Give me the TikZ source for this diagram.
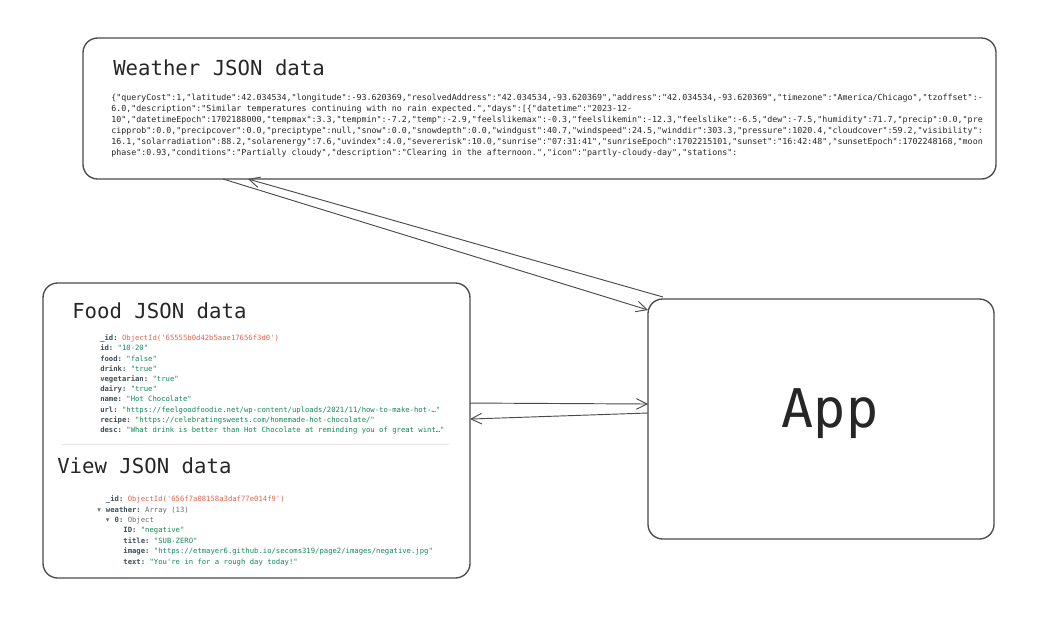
\documentclass[tikz,border=0pt]{standalone}
\usepackage{fontspec}
\setmonofont{DejaVu Sans Mono}
\newfontfamily\simbolos{DejaVu Sans}
\usepackage{xcolor}
\usepackage{tikz}
\usetikzlibrary{arrows.meta}
\definecolor{borde}{HTML}{4A4A4A}
\definecolor{clave}{HTML}{3D4F58}
\definecolor{cadena}{HTML}{12885A}
\definecolor{objid}{HTML}{E5654F}
\definecolor{tipo}{HTML}{707070}
\newcommand{\campo}[2]{{\bfseries\color{clave}#1:} {\color{cadena}"#2"}}
\newcommand{\campoid}[1]{{\bfseries\color{clave}\_id:} {\color{objid}ObjectId('#1')}}
\newcommand{\campotipo}[2]{{\bfseries\color{clave}#1:} {\color{tipo}#2}}
\newcommand{\abrir}{\makebox[1.204em][l]{\color{tipo}\simbolos\char"25BE}}
\newcommand{\sangria}[1]{\hspace*{#1em}}
\tikzset{
  caja/.style={draw=borde, line width=1pt, rounded corners=11pt,
    inner sep=0pt, outer sep=0pt},
  titulo/.style={anchor=base west, inner sep=0pt, text=black!85,
    font=\ttfamily\fontsize{15.5}{18}\selectfont},
  codigo/.style={anchor=north west, inner sep=0pt, align=left},
  flecha/.style={draw=borde, line width=0.7pt,
    -{Straight Barb[length=8pt,width=8pt]}}
}
\begin{document}
\begin{tikzpicture}[x=0.75pt, y=-0.75pt]
  \path[fill=white, use as bounding box] (0,0) rectangle (1045,622);
  % cajas
  \node[caja, minimum width=684.75pt, minimum height=105.75pt] (clima) at (539.5,108.5) {};
  \node[caja, minimum width=259.5pt, minimum height=180pt] (app) at (821,419) {};
  \node[caja, minimum width=320.25pt, minimum height=221.25pt] (datos) at (256.5,430.5) {};
  % textos
  \node[titulo] (tclima) at (113,75) {Weather JSON data};
  \node[titulo] (tcomida) at (72,318) {Food JSON data};
  \node[titulo] (tvista) at (57,473) {View JSON data};
  \node[anchor=base, inner sep=0pt, text=black!85,
    font=\ttfamily\fontsize{40}{44}\selectfont] (tapp) at (830,427) {App};
  \node[codigo, font=\ttfamily\fontsize{6.24}{8.25}\selectfont, text=black!85] (jclima) at (111,94) {%
\{"queryCost":1,"latitude":42.034534,"longitude":-93.620369,"resolvedAddress":"42.034534,-93.620369","address":"42.034534,-93.620369","timezone":"America/Chicago","tzoffset":-\\
6.0,"description":"Similar temperatures continuing with no rain expected.","days":[\{"datetime":"2023-12-\\
10","datetimeEpoch":1702188000,"tempmax":3.3,"tempmin":-7.2,"temp":-2.9,"feelslikemax":-0.3,"feelslikemin":-12.3,"feelslike":-6.5,"dew":-7.5,"humidity":71.7,"precip":0.0,"pre\\
cipprob":0.0,"precipcover":0.0,"preciptype":null,"snow":0.0,"snowdepth":0.0,"windgust":40.7,"windspeed":24.5,"winddir":303.3,"pressure":1020.4,"cloudcover":59.2,"visibility":\\
16.1,"solarradiation":88.2,"solarenergy":7.6,"uvindex":4.0,"severerisk":10.0,"sunrise":"07:31:41","sunriseEpoch":1702215101,"sunset":"16:42:48","sunsetEpoch":1702248168,"moon\\
phase":0.93,"conditions":"Partially cloudy","description":"Clearing in the afternoon.","icon":"partly-cloudy-day","stations":};
  \node[codigo, font=\ttfamily\fontsize{5.43}{7.65}\selectfont] (jcomida) at (100,334.5) {%
\campoid{65555b0d42b5aae17656f3d0}\\
\campo{id}{10-20}\\
\campo{food}{false}\\
\campo{drink}{true}\\
\campo{vegetarian}{true}\\
\campo{dairy}{true}\\
\campo{name}{Hot Chocolate}\\
\campo{url}{https://feelgoodfoodie.net/wp-content/uploads/2021/11/how-to-make-hot-…}\\
\campo{recipe}{https://celebratingsweets.com/homemade-hot-chocolate/}\\
\campo{desc}{What drink is better than Hot Chocolate at reminding you of great wint…}};
  \node[codigo, font=\ttfamily\fontsize{5.43}{7.8}\selectfont] (jvista) at (97,495.5) {%
\sangria{1.204}\campoid{656f7a08158a3daf77e014f9}\\
\abrir\campotipo{weather}{Array (13)}\\
\sangria{1.204}\abrir\campotipo{0}{Object}\\
\sangria{3.612}\campo{ID}{negative}\\
\sangria{3.612}\campo{title}{SUB-ZERO}\\
\sangria{3.612}\campo{image}{https://etmayer6.github.io/secoms319/page2/images/negative.jpg}\\
\sangria{3.612}\campo{text}{You're in for a rough day today!}};
  \draw[gray!20, line width=0.6pt] (62,444) -- (449,444);
  % flechas
  \draw[flecha] ([xshift=105pt]clima.south west) -- ([yshift=-8.25pt]app.north west);
  \draw[flecha] ([xshift=11.25pt, yshift=1.5pt]app.north west) -- ([xshift=123.75pt]clima.south west);
  \draw[flecha] ([yshift=20.6pt]datos.east) -- ([yshift=11.25pt]app.west);
  \draw[flecha] ([yshift=4.5pt]app.west) -- ([yshift=8.6pt]datos.east);
\end{tikzpicture}
\end{document}
